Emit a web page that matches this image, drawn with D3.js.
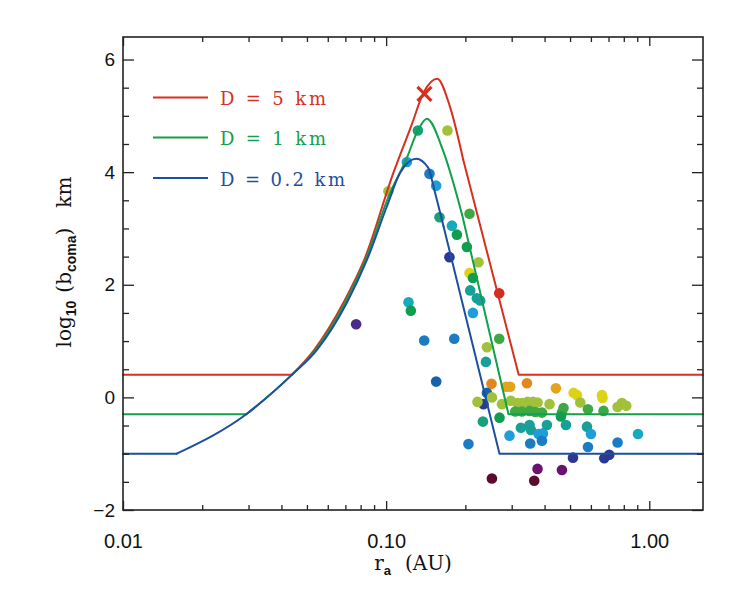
<!DOCTYPE html>
<html><head><meta charset="utf-8">
<script src="https://cdn.jsdelivr.net/npm/d3@7"></script>
<style>body{margin:0;background:#fff}</style>
</head><body>
<svg id="c" width="739" height="589"></svg>
<script>
// ---------- data ----------
const xDomain = [0.01, 1.6];
const yDomain = [-2, 6.4];
const xMajorTicks = [0.01, 0.1, 1];
const xMinorTicks = [0.02,0.03,0.04,0.05,0.06,0.07,0.08,0.09,0.2,0.3,0.4,0.5,0.6,0.7,0.8,0.9];
const yMajorTicks = [-2, 0, 2, 4, 6];
const yMinorTicks = [-1.5,-1,-0.5,0.5,1,1.5,2.5,3,3.5,4.5,5,5.5];

const seriesNames = ["D = 5 km", "D = 1 km", "D = 0.2 km"];

// model curves [r_a (AU), log10 b_coma]
const redCurve = [[0.01,0.40],[0.0438,0.40],[0.0532,0.84],[0.0688,1.68],[0.0825,2.44],[0.1066,3.99],
  [0.1252,4.85],[0.1386,5.41],[0.1563,5.66],[0.1751,5.15],[0.1963,4.22],[0.319,0.40],[1.6,0.40]];
const greenCurve = [[0.01,-0.30],[0.0294,-0.30],[0.0438,0.40],[0.0539,0.84],[0.0698,1.68],[0.0834,2.44],
  [0.1035,3.63],[0.1191,4.22],[0.1320,4.74],[0.1428,4.95],[0.1652,4.36],[0.1945,3.24],[0.2917,-0.30],[1.6,-0.30]];
const blueCurve = [[0.01,-1.00],[0.0160,-1.00],[0.0294,-0.30],[0.0438,0.40],[0.0545,0.84],[0.0709,1.68],
  [0.0845,2.44],[0.1006,3.39],[0.1130,3.99],[0.1300,4.24],[0.1444,4.08],[0.1535,3.63],[0.1652,3.04],[0.2696,-1.00],[1.6,-1.00]];

const peakMarker = [0.1398, 5.39];

// observed objects
const pointR = [0.1320,0.1710,0.1199,0.1461,0.1549,0.1020,0.1595,0.1778,0.1857,0.2074,
  0.2027,0.1740,0.2244,0.2074,0.2137,0.2087,0.2212,0.2277,0.2137,0.2690,
  0.1216,0.1241,0.0769,0.1395,0.1815,0.1549,0.2690,0.2415,0.2394,0.2514,
  0.2860,0.2961,0.3428,0.4417,0.5157,0.5312,0.6610,0.6643,0.2415,0.2344,
  0.2224,0.2523,0.2754,0.2979,0.3156,0.3281,0.3446,0.3613,0.3761,0.4177,
  0.5467,0.7576,0.7875,0.8175,0.3094,0.3281,0.3507,0.3686,0.3908,0.4721,
  0.4656,0.4616,0.5847,0.6702,0.2697,0.2332,0.2943,0.3252,0.3507,0.3550,
  0.3794,0.3943,0.4083,0.3908,0.3528,0.4823,0.5796,0.6002,0.5847,0.7576,
  0.9058,0.2055,0.5128,0.6744,0.7045,0.3761,0.4656,0.2523,0.3654];
const pointV = [4.74,4.74,4.18,3.97,3.76,3.66,3.20,3.05,2.89,3.26,
  2.67,2.49,2.40,2.21,2.12,1.90,1.76,1.72,1.50,1.85,
  1.69,1.54,1.30,1.01,1.04,0.28,1.04,0.89,0.63,0.24,
  0.19,0.19,0.25,0.16,0.08,0.04,0.04,-0.01,0.08,-0.12,
  -0.08,0.00,-0.12,-0.06,-0.10,-0.10,-0.08,-0.08,-0.09,-0.12,
  -0.09,-0.17,-0.10,-0.15,-0.25,-0.25,-0.24,-0.26,-0.27,-0.19,
  -0.27,-0.34,-0.21,-0.24,-0.36,-0.43,-0.68,-0.54,-0.49,-0.58,
  -0.65,-0.64,-0.49,-0.77,-0.82,-0.49,-0.52,-0.65,-0.88,-0.80,
  -0.65,-0.83,-1.07,-1.08,-1.02,-1.27,-1.29,-1.44,-1.48];
const pointLevel = [9,12,6,5,6,12,9,7,10,11,
  10,3,12,13,10,8,8,8,6,16,
  7,10,2,5,5,4,11,12,8,15,
  14,14,15,14,13,13,13,13,4,3,
  12,12,12,12,12,12,12,12,12,12,
  12,12,12,12,11,11,11,11,11,11,
  11,10,11,11,10,9,6,8,8,8,
  6,6,8,5,5,8,8,6,5,5,
  7,5,3,3,3,1,1,0,0];

// ---------- styles ----------
const palette = ["#5c0a2e","#6b1270","#4b2a88","#2b3990","#1563ab","#1b7cc4","#1f9dd8","#18a9bf",
  "#17a097","#17a07a","#0f9d50","#3ea944","#a0c23b","#dcd317","#e3a31c","#e0881e","#d42b23"];
const seriesColors = ["#d7301f", "#12a04a", "#1c4f9f"];
const W = 739, H = 589;
const L = 123, R = 703, T = 37, B = 510;

const svg = d3.select("#c");
const x = d3.scaleLog().domain(xDomain).range([L, R]);
const y = d3.scaleLinear().domain(yDomain).range([B, T]);

function clean(g, label) {
  g.select(".domain").remove();
  g.selectAll("line").attr("stroke", "#222").attr("stroke-width", 1.3);
  g.attr("font-family", "Liberation Sans, Arial, sans-serif").attr("font-size", label ? 19 : 0);
  g.selectAll("text").attr("fill", "#111");
}

// points (drawn under the curves)
svg.append("g").selectAll("circle").data(d3.range(pointR.length)).join("circle")
  .attr("cx", i => x(pointR[i])).attr("cy", i => y(pointV[i])).attr("r", 5.3)
  .attr("fill", i => palette[pointLevel[i]]);

// curves
const lin = d3.line().x(d => x(d[0])).y(d => y(d[1]));
const smooth = d3.line().x(d => x(d[0])).y(d => y(d[1])).curve(d3.curveMonotoneX);
[redCurve, greenCurve, blueCurve].forEach((pts, k) => {
  const n = pts.length;
  const g = svg.append("g").attr("fill", "none").attr("stroke", seriesColors[k])
    .attr("stroke-width", 2).attr("stroke-linecap", "round").attr("stroke-linejoin", "round");
  g.append("path").attr("d", lin(pts.slice(0, 2)));
  g.append("path").attr("d", smooth(pts.slice(1, n - 2)));
  g.append("path").attr("d", lin(pts.slice(n - 3)));
});

// peak marker (X)
const mx = x(peakMarker[0]), my = y(peakMarker[1]);
svg.append("path").attr("d", `M${mx-7},${my-7}L${mx+7},${my+7}M${mx-7},${my+7}L${mx+7},${my-7}`)
  .attr("stroke", seriesColors[0]).attr("stroke-width", 3.2).attr("fill", "none");

// axes
const fmtX = d3.format(".2f");
svg.append("g").attr("transform", `translate(0,${B})`)
  .call(d3.axisBottom(x).tickValues(xMajorTicks).tickSize(-9).tickPadding(24).tickFormat(fmtX))
  .call(g => clean(g, true)).call(g => g.attr("font-size", 20));
svg.append("g").attr("transform", `translate(0,${B})`)
  .call(d3.axisBottom(x).tickValues(xMinorTicks).tickSize(-5).tickFormat("")).call(g => clean(g, false));
svg.append("g").attr("transform", `translate(0,${T})`)
  .call(d3.axisTop(x).tickValues(xMajorTicks).tickSize(-9).tickFormat("")).call(g => clean(g, false));
svg.append("g").attr("transform", `translate(0,${T})`)
  .call(d3.axisTop(x).tickValues(xMinorTicks).tickSize(-5).tickFormat("")).call(g => clean(g, false));
svg.append("g").attr("transform", `translate(${L},0)`)
  .call(d3.axisLeft(y).tickValues(yMajorTicks).tickSize(-11).tickPadding(8).tickFormat(d3.format("d")))
  .call(g => clean(g, true));
svg.append("g").attr("transform", `translate(${L},0)`)
  .call(d3.axisLeft(y).tickValues(yMinorTicks).tickSize(-6).tickFormat("")).call(g => clean(g, false));
svg.append("g").attr("transform", `translate(${R},0)`)
  .call(d3.axisRight(y).tickValues(yMajorTicks).tickSize(-11).tickFormat("")).call(g => clean(g, false));
svg.append("g").attr("transform", `translate(${R},0)`)
  .call(d3.axisRight(y).tickValues(yMinorTicks).tickSize(-6).tickFormat("")).call(g => clean(g, false));

svg.append("rect").attr("x", L).attr("y", T).attr("width", R - L).attr("height", B - T)
  .attr("fill", "none").attr("stroke", "#222").attr("stroke-width", 1.6);

// axis titles
const serif = "DejaVu Serif, serif";
const xt = svg.append("text").attr("x", (L + R) / 2).attr("y", 570).attr("text-anchor", "middle")
  .attr("font-family", serif).attr("font-size", 20).attr("fill", "#111");
xt.append("tspan").text("r");
xt.append("tspan").attr("font-family", "Liberation Sans, sans-serif").attr("font-weight", "bold")
  .attr("font-size", 13).attr("dy", 5).text("a");
xt.append("tspan").attr("dy", -5).attr("dx", 14).text("(AU)");

const yt = svg.append("text").attr("transform", "translate(71,262) rotate(-90)").attr("text-anchor", "middle")
  .attr("font-family", serif).attr("font-size", 20).attr("fill", "#111");
yt.append("tspan").text("log");
yt.append("tspan").attr("font-family", "Liberation Sans, sans-serif").attr("font-weight", "bold")
  .attr("font-size", 14).attr("dy", 5).text("10");
yt.append("tspan").attr("dy", -5).attr("dx", 8).text("(b");
yt.append("tspan").attr("font-family", "Liberation Sans, sans-serif").attr("font-weight", "bold")
  .attr("font-size", 14).attr("dy", 5).text("coma");
yt.append("tspan").attr("dy", -5).text(")");
yt.append("tspan").attr("dx", 20).text("km");

// legend
const legY = [97.5, 137.5, 178];
const legW = [106, 106, 125];
seriesNames.forEach((s, k) => {
  svg.append("line").attr("x1", 153).attr("x2", 208).attr("y1", legY[k]).attr("y2", legY[k])
    .attr("stroke", seriesColors[k]).attr("stroke-width", 2);
  svg.append("text").attr("x", 220).attr("y", legY[k] + 7.5)
    .attr("font-family", serif).attr("font-size", 18).attr("fill", seriesColors[k])
    .attr("textLength", legW[k]).attr("lengthAdjust", "spacing")
    .text(s);
});
</script>
</body></html>
